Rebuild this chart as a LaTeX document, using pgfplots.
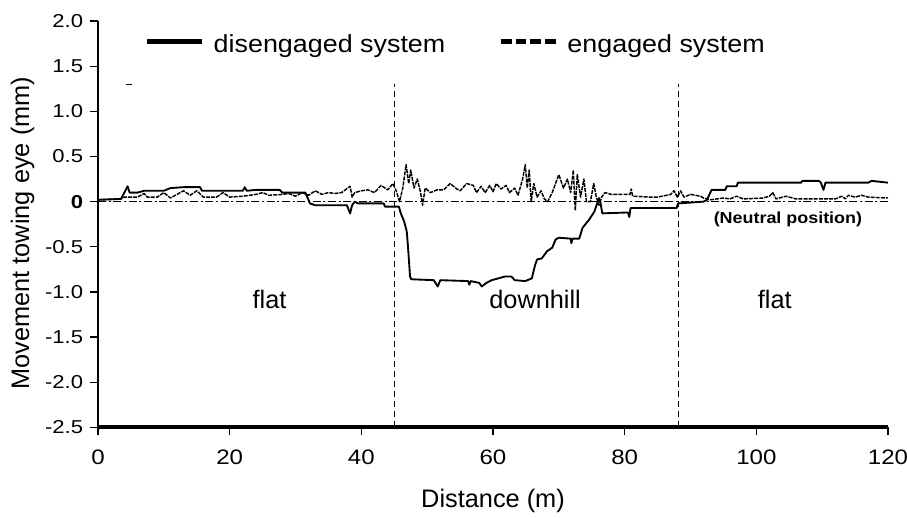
\documentclass[border=0pt]{standalone}
\usepackage{pgfplots}
\pgfplotsset{compat=1.18}
\usepackage{fontspec}
\setmainfont{Liberation Sans}
\usepackage{graphicx}
\newcommand\ys[1]{\scalebox{1.18}[1]{#1}}
\begin{document}
\begin{tikzpicture}
\useasboundingbox (-73.5pt,-67.3pt) rectangle (606.75pt,320.5pt);
\begin{axis}[
  at={(0,0)}, anchor=south west,
  scale only axis, width=592.5pt, height=304.7pt,
  xmin=0, xmax=120, ymin=-2.5, ymax=2.0,
  axis x line*=bottom, axis y line*=left,
  x axis line style={line width=3pt, line cap=butt},
  y axis line style={line width=1pt},
  xtick={0,20,...,120},
  ytick={-2.5,-2,-1.5,-1,-0.5,0,0.5,1,1.5,2},
  yticklabels={\ys{-2.5},\ys{-2.0},\ys{-1.5},\ys{-1.0},\ys{-0.5},\ys{\textbf{0}},\ys{0.5},\ys{1.0},\ys{1.5},\ys{2.0}},
  xticklabel={\scalebox{1.15}[1]{\pgfmathprintnumber[assume math mode=true]{\tick}}},
  xtick align=outside, ytick align=outside,
  major tick length=6pt,
  major x tick style={black, line width=1pt},
  major y tick style={black, line width=0.9pt},
  xticklabel style={font=\fontsize{15.7}{18}\selectfont, anchor=center, yshift=-16.5pt},
  yticklabel style={font=\fontsize{14}{16}\selectfont, anchor=east, inner sep=0pt, xshift=-5pt},
  xlabel={Distance (m)},
  ylabel={Movement towing eye (mm)},
  label style={font=\fontsize{19}{22}\selectfont},
  xlabel style={at={(axis description cs:0.5,0)}, anchor=center, yshift=-55pt},
  ylabel style={at={(axis description cs:-0.0956,0.478)}, anchor=center, rotate=0},
  legend columns=2,
  legend cell align=left,
  legend image code/.code={\draw[#1] (0pt,2.5pt) -- (41pt,2.5pt); \path[draw=none,fill=none] (0pt,0pt) rectangle (49.8pt,1pt);},
  legend style={draw=none, fill=none, at={(axis cs:7.14,1.74)}, anchor=west, inner sep=0pt, outer sep=0pt,
    font=\fontsize{18.5}{21}\selectfont,
    nodes={inner sep=0pt},
    /tikz/every odd column/.style={column sep=0pt},
    /tikz/every even column/.style={column sep=40pt}},
]
\addlegendimage{black, line width=3.5pt, line cap=butt}
\addlegendentry{\scalebox{1.09}[1]{disengaged system}}
\addlegendimage{black, line width=3.5pt, line cap=butt, dash pattern=on 8pt off 3pt}
\addlegendentry{\scalebox{1.09}[1]{engaged system}}

% neutral position line
\addplot[forget plot, black, line width=1.3pt, dash pattern=on 6pt off 2pt on 1.5pt off 2pt] coordinates {(0,0) (120,0)};
% section boundaries
\addplot[forget plot, black, line width=1.1pt, dash pattern=on 5pt off 2.5pt] coordinates {(45,-2.5) (45,1.3)};
\addplot[forget plot, black, line width=1.1pt, dash pattern=on 5pt off 2.5pt] coordinates {(88.2,-2.5) (88.2,1.3)};
% small stray mark
\addplot[forget plot, black, line width=1pt] coordinates {(4.3,1.3) (5.2,1.3)};

% disengaged system
\addplot[forget plot, black, line width=1.4pt, line join=round] coordinates {
(0,0.02) (3.5,0.03) (4,0.1) (4.5,0.17) (4.8,0.1) (6,0.1) (7,0.12) (10,0.12) (11,0.15) (13,0.16) (15.5,0.16) (15.8,0.12)
(22,0.12) (22.3,0.16) (22.6,0.12) (24,0.13) (27.6,0.13) (28,0.1) (31.5,0.1) (32.2,-0.02) (33,-0.04) (37.8,-0.04)
(38.3,-0.13) (38.6,-0.04) (39,0) (39.5,-0.02) (43.4,-0.02) (43.6,-0.055) (45.7,-0.055) (46,-0.13) (46.5,-0.22)
(46.9,-0.33) (47.1,-0.51) (47.4,-0.83) (47.6,-0.86) (51,-0.87) (51.6,-0.94) (52,-0.87) (56.2,-0.88) (56.4,-0.92)
(56.6,-0.88) (57.9,-0.9) (58.3,-0.94) (59,-0.9) (59.8,-0.87) (61.8,-0.83) (62.8,-0.83) (63.3,-0.87) (64.9,-0.88)
(65.9,-0.85) (66.4,-0.7) (66.7,-0.64) (67.4,-0.63) (68.2,-0.55) (69,-0.51) (69.5,-0.42) (70,-0.4) (71.8,-0.41)
(71.9,-0.46) (72.1,-0.41) (73.1,-0.41) (73.6,-0.29) (74.6,-0.2) (75.4,-0.11) (76.1,0.04) (76.3,0.0) (76.6,-0.13)
(80.5,-0.12) (80.7,-0.17) (80.9,-0.07) (87.9,-0.07) (88.1,-0.02) (92,0.0) (92.5,0.02) (93.2,0.13) (95.3,0.13)
(95.5,0.17) (97,0.17) (97.2,0.21) (106.8,0.21) (107,0.23) (109.5,0.23) (109.8,0.21) (110.2,0.13) (110.5,0.21)
(117,0.21) (117.5,0.23) (120,0.21)
};
% engaged system
\addplot[forget plot, black, line width=1.1pt, line join=round, dash pattern=on 3pt off 0.8pt] coordinates {
(0,0.02) (3.5,0.03) (4,0.05) (6,0.05) (7,0.09) (7.5,0.05) (9,0.05) (10,0.1) (11,0.04) (12,0.08) (13,0.12) (14,0.07)
(15,0.12) (16,0.05) (18,0.05) (19,0.1) (20,0.05) (22,0.06) (24,0.08) (25,0.1) (26,0.07) (28,0.08) (29,0.09)
(30,0.06) (31,0.1) (32,0.07) (33,0.12) (34,0.08) (35,0.1) (36,0.09) (37,0.1) (38.3,0.17) (38.6,0.05) (39,0.1)
(40,0.12) (41,0.13) (42,0.1) (43,0.18) (44,0.13) (44.8,0.2) (45.3,0.12) (45.8,0.0) (46.3,0.15) (46.8,0.41)
(47.2,0.2) (47.5,0.35) (48,0.15) (48.5,0.25) (49,0.1) (49.3,-0.04) (49.7,0.15) (50.5,0.1) (51.5,0.13) (52.5,0.13)
(53.5,0.2) (54.5,0.14) (55,0.12) (56,0.2) (57,0.18) (57.5,0.1) (58.2,0.17) (58.8,0.1) (59.5,0.18) (60,0.11)
(60.5,0.2) (61.2,0.14) (62,0.18) (62.5,0.1) (63.3,0.15) (63.8,0.07) (64.5,0.25) (64.9,0.41) (65.2,0.15) (65.5,0.35)
(65.8,0.0) (66.2,0.2) (66.7,0.05) (67.3,0.12) (67.8,0.03) (68.3,0.0) (69,0.1) (70,0.3) (70.7,0.15) (71.3,0.25)
(71.8,0.1) (72.2,0.35) (72.5,-0.1) (72.8,0.3) (73.3,0.05) (73.8,0.25) (74.2,0.0) (74.8,0.0) (75.3,0.2) (75.7,0.05)
(76.1,-0.04) (76.5,0.05) (77,0.1) (78,0.08) (80.8,0.08) (81,0.14) (81.2,0.06) (84,0.05) (85,0.05) (87,0.08)
(87.5,0.12) (88,0.05) (88.5,0.12) (89,0.05) (90,0.08) (91.5,0.06) (92,0.04) (93,0.02) (94,0.03) (95,0.04) (96,0.03)
(97,0.06) (98,0.03) (101,0.04) (102,0.06) (102.5,0.1) (103,0.03) (104.5,0.06) (106,0.03) (112,0.03) (113,0.06)
(113.5,0.03) (114,0.07) (115,0.05) (116,0.07) (117,0.05) (120,0.04)
};

\node[font=\fontsize{19}{22}\selectfont] at (axis cs:26.05,-1.08) {flat};
\node[font=\fontsize{19}{22}\selectfont] at (axis cs:66.4,-1.08) {downhill};
\node[font=\fontsize{19}{22}\selectfont] at (axis cs:102.8,-1.08) {flat};
\node[font=\fontsize{12}{14}\selectfont\bfseries] at (axis cs:104.8,-0.2) {\scalebox{1.12}[1]{(Neutral position)}};
\end{axis}
\end{tikzpicture}
\end{document}
